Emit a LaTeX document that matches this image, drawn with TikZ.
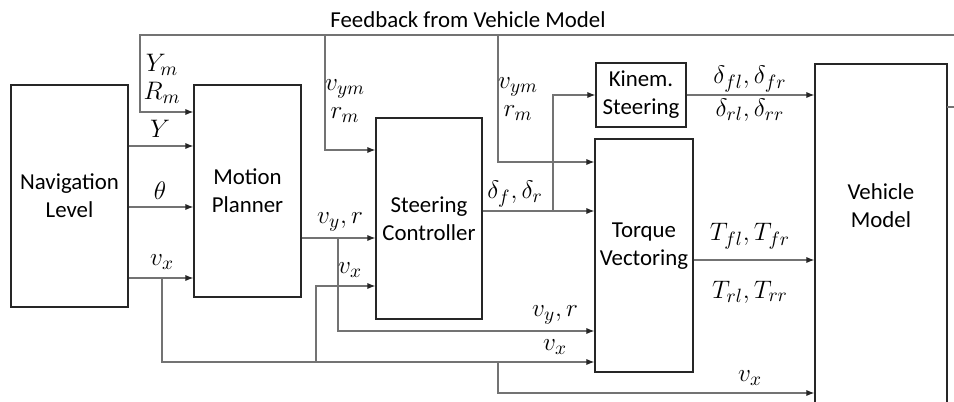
\documentclass[tikz,border=0pt]{standalone}
\usepackage{fontspec}
\setmainfont{Carlito}
\usetikzlibrary{arrows.meta, positioning, calc}

\begin{document}
\begin{tikzpicture}[x=0.02cm, y=-0.02cm,
  font=\fontsize{13}{16}\selectfont,
  block/.style={draw=black!85, line width=0.8pt, align=center, inner sep=0pt},
  sig/.style={draw=black!55, line width=0.6pt, -{Latex[length=4.5pt, width=3.5pt, color=black!85]}},
  lbl/.style={align=center, inner sep=1pt},
  mlbl/.style={lbl, font=\fontsize{15}{16}\selectfont}]
  \useasboundingbox (0,0) rectangle (954,402);

  % Blocks
  \node[block, minimum width=2.34cm, minimum height=4.44cm] (nav) at (69.5,196) {Navigation\\Level};
  \node[block, minimum width=2.14cm, minimum height=4.24cm] (mp) at (247.5,191) {Motion\\Planner};
  \node[block, minimum width=2.12cm, minimum height=4.02cm] (sc) at (429,218.5) {Steering\\Controller};
  \node[block, minimum width=1.8cm, minimum height=1.28cm] (ks) at (641,95) {Kinem.\\Steering};
  \node[block, minimum width=1.96cm, minimum height=4.66cm] (tv) at (644,255.5) {};
  \node[lbl] (tvtext) at (644,246) {Torque\\Vectoring};
  \node[block, minimum width=2.64cm, minimum height=7.44cm] (vm) at (881,250) {};
  \node[lbl] (vmtext) at (881,206) {Vehicle\\Model};

  % Branch points and signal levels
  \coordinate (vmout) at (947,107);
  \coordinate (fbA) at (140,35);
  \coordinate (fbB) at (325,35);
  \coordinate (fbC) at (498,35);
  \coordinate (fbAin) at (140,112);
  \coordinate (fbBin) at (325,150);
  \coordinate (fbCin) at (498,162);
  \coordinate (yY) at (0,146);
  \coordinate (yTh) at (0,207);
  \coordinate (vxA) at (162,278);
  \coordinate (vxB) at (316,362);
  \coordinate (vxBin) at (316,286);
  \coordinate (vxC) at (498,362);
  \coordinate (vxCin) at (498,393);
  \coordinate (vyA) at (338,238);
  \coordinate (vyAlow) at (338,331);
  \coordinate (dA) at (553,211);
  \coordinate (yT) at (0,260);

  % Feedback from vehicle model
  \draw[sig] (vmout) -- (975,107) |- (fbA) -- (fbAin) -- (mp.west |- fbAin);
  \draw[sig] (fbB) -- (fbBin) -- (sc.west |- fbBin);
  \draw[sig] (fbC) -- (fbCin) -- (tv.west |- fbCin);
  \node[lbl] (fbtext) at (468,20) {Feedback from Vehicle Model};

  % Navigation to motion planner
  \draw[sig] (nav.east |- yY) -- (mp.west |- yY);
  \draw[sig] (nav.east |- yTh) -- (mp.west |- yTh);
  \draw[sig] (nav.east |- vxA) -- (mp.west |- vxA);
  \draw[sig] (vxA) |- (tv.west |- vxB);
  \draw[sig] (vxB) -- (vxBin) -- (sc.west |- vxBin);
  \draw[sig] (vxC) -- (vxCin) -- (vm.west |- vxCin);

  % Planner, controller, actuators
  \draw[sig] (mp.east |- vyA) -- (sc.west |- vyA);
  \draw[sig] (vyA) |- (tv.west |- vyAlow);
  \draw[sig] (sc.east |- dA) -- (tv.west |- dA);
  \draw[sig] (dA) |- (ks.west);
  \draw[sig] (ks.east) -- (vm.west |- ks.east);
  \draw[sig] (tv.east |- yT) -- (vm.west |- yT);

  % Labels
  \node[mlbl] (lYR) at (162,79) {$Y_m$\\$R_m$};
  \node[mlbl] (lY) at (160,129) {$Y$};
  \node[mlbl] (lth) at (160,191) {$\theta$};
  \node[mlbl] (lvx1) at (162,262) {$v_x$};
  \node[mlbl] (lvr1) at (345,101) {$v_{ym}$\\$r_m$};
  \node[mlbl] (lvr2) at (518,99) {$v_{ym}$\\$r_m$};
  \node[mlbl] (lvy1) at (340,222) {$v_y, r$};
  \node[mlbl] (lvx2) at (350,270) {$v_x$};
  \node[mlbl] (ldel) at (515,194) {$\delta_f, \delta_r$};
  \node[mlbl] (ldf) at (750,79) {$\delta_{fl}, \delta_{fr}$};
  \node[mlbl] (ldr) at (750,110) {$\delta_{rl}, \delta_{rr}$};
  \node[mlbl] (lTf) at (750,236) {$T_{fl}, T_{fr}$};
  \node[mlbl] (lTr) at (750,292) {$T_{rl}, T_{rr}$};
  \node[mlbl] (lvy2) at (555,315) {$v_y, r$};
  \node[mlbl] (lvx3) at (555,347) {$v_x$};
  \node[mlbl] (lvx4) at (750,378) {$v_x$};
\end{tikzpicture}
\end{document}
